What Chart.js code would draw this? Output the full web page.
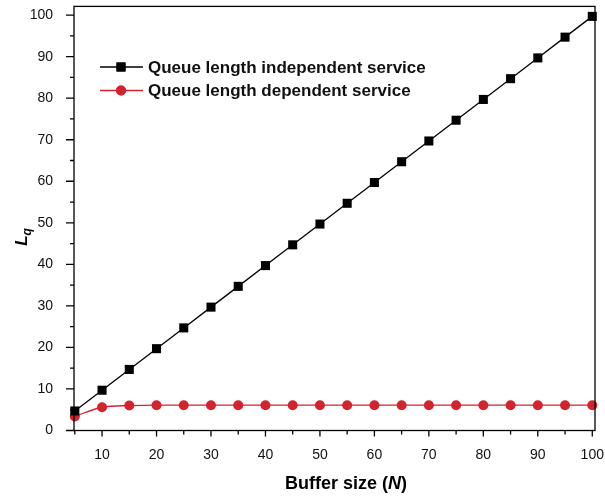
<!DOCTYPE html>
<html><head><meta charset="utf-8">
<script src="https://cdn.jsdelivr.net/npm/chart.js@4/dist/chart.umd.min.js"></script>
<style>html,body{margin:0;padding:0;background:#fff}#wrap{width:605px;height:498px}</style>
</head><body><div id="wrap"><canvas id="c" width="605" height="498"></canvas></div>
<script>
const bufferSizes = [5,10,15,20,25,30,35,40,45,50,55,60,65,70,75,80,85,90,95,100];
const independentLq = [4.7,9.7,14.7,19.7,24.7,29.7,34.7,39.7,44.7,49.7,54.7,59.7,64.7,69.7,74.7,79.7,84.7,89.7,94.7,99.7];
const dependentLq = [3.4,5.6,6.0,6.1,6.1,6.1,6.1,6.1,6.1,6.1,6.1,6.1,6.1,6.1,6.1,6.1,6.1,6.1,6.1,6.1];
const seriesNames = ['Queue length independent service','Queue length dependent service'];
const yTicks = [0,10,20,30,40,50,60,70,80,90,100];
const yMinorTicks = [5,15,25,35,45,55,65,75,85,95];
const xTicks = [10,20,30,40,50,60,70,80,90,100];
const xMinorTicks = [5,15,25,35,45,55,65,75,85,95];

const FONT = '"Liberation Sans", Arial, sans-serif';
const BLACK = '#000000';
const RED = '#d2232e';

const decor = {
  id: 'decor',
  afterDraw(chart) {
    const ctx = chart.ctx, a = chart.chartArea;
    const xs = chart.scales.x, ys = chart.scales.y;
    ctx.save();
    ctx.strokeStyle = '#000';
    ctx.lineWidth = 1.3;
    ctx.strokeRect(a.left, a.top, a.right - a.left, a.bottom - a.top);
    // ticks
    ctx.beginPath();
    xTicks.forEach(v => { const p = xs.getPixelForValue(v); ctx.moveTo(p, a.bottom); ctx.lineTo(p, a.bottom + 6); });
    xMinorTicks.forEach(v => { const p = xs.getPixelForValue(v); ctx.moveTo(p, a.bottom); ctx.lineTo(p, a.bottom + 4); });
    yTicks.forEach(v => { const p = ys.getPixelForValue(v); ctx.moveTo(a.left, p); ctx.lineTo(a.left - 8, p); });
    yMinorTicks.forEach(v => { const p = ys.getPixelForValue(v); ctx.moveTo(a.left, p); ctx.lineTo(a.left - 4, p); });
    ctx.stroke();
    // legend
    const rows = [
      {name: seriesNames[0], color: BLACK, style: 'rect', r: 6.4},
      {name: seriesNames[1], color: RED, style: 'circle', r: 5}
    ];
    ctx.font = 'bold 17px ' + FONT;
    ctx.textBaseline = 'middle';
    rows.forEach((row, i) => {
      const y = 67 + i * 23.5;
      ctx.strokeStyle = row.color; ctx.lineWidth = 1.3;
      ctx.beginPath(); ctx.moveTo(100, y); ctx.lineTo(143, y); ctx.stroke();
      ctx.fillStyle = row.color;
      Chart.helpers.drawPoint(ctx, {pointStyle: row.style, radius: row.r, rotation: 0, borderWidth: 0}, 121, y);
      ctx.fill();
      ctx.fillStyle = '#111';
      ctx.fillText(row.name, 148, y + 1);
    });
    // y title L_q
    ctx.save();
    ctx.translate(27, 237);
    ctx.rotate(-Math.PI / 2);
    ctx.fillStyle = '#000';
    ctx.textBaseline = 'alphabetic';
    ctx.textAlign = 'left';
    ctx.font = 'italic bold 17px ' + FONT;
    const wL = ctx.measureText('L').width;
    ctx.font = 'italic bold 12px ' + FONT;
    const wq = ctx.measureText('q').width;
    const x0 = -(wL + wq) / 2;
    ctx.font = 'italic bold 17px ' + FONT;
    ctx.fillText('L', x0, 0);
    ctx.font = 'italic bold 12px ' + FONT;
    ctx.fillText('q', x0 + wL, 4);
    ctx.restore();
    // x title
    ctx.fillStyle = '#000';
    ctx.textBaseline = 'alphabetic';
    ctx.textAlign = 'left';
    const parts = [['Buffer size (', 'bold 18px '], ['N', 'italic bold 18px '], [')', 'bold 18px ']];
    let total = 0;
    parts.forEach(p => { ctx.font = p[1] + FONT; total += ctx.measureText(p[0]).width; });
    let cx = 346 - total / 2;
    parts.forEach(p => { ctx.font = p[1] + FONT; ctx.fillText(p[0], cx, 489); cx += ctx.measureText(p[0]).width; });
    ctx.restore();
  }
};

new Chart(document.getElementById('c'), {
  type: 'line',
  data: {
    datasets: [
      {label: seriesNames[0], data: bufferSizes.map((x, i) => ({x, y: independentLq[i]})),
       borderColor: BLACK, backgroundColor: BLACK, borderWidth: 1.3, pointStyle: 'rect', pointRadius: 6.4,
       pointBorderWidth: 0, tension: 0, clip: false},
      {label: seriesNames[1], data: bufferSizes.map((x, i) => ({x, y: dependentLq[i]})),
       borderColor: RED, backgroundColor: RED, borderWidth: 1.3, pointStyle: 'circle', pointRadius: 5,
       pointBorderWidth: 0, cubicInterpolationMode: 'monotone', clip: false}
    ]
  },
  options: {
    responsive: false, animation: false, devicePixelRatio: 1,
    layout: {padding: {left: 0, right: 10, top: 6, bottom: 0}},
    plugins: {legend: {display: false}, tooltip: {enabled: false}},
    scales: {
      x: {type: 'linear', min: 4.85, max: 100.5,
          afterBuildTicks: s => { s.ticks = xTicks.map(v => ({value: v})); },
          afterFit: s => { s.height = 67.5; s.paddingLeft = 0; s.paddingRight = 0; },
          grid: {display: false}, border: {display: false},
          ticks: {padding: 8, color: '#111', font: {family: FONT, size: 14}, maxRotation: 0, autoSkip: false,
                  callback: v => String(v)}},
      y: {type: 'linear', min: 0, max: 102.1,
          afterBuildTicks: s => { s.ticks = yTicks.map(v => ({value: v})); },
          afterFit: s => { s.width = 74; s.paddingTop = 0; s.paddingBottom = 0; },
          grid: {display: false}, border: {display: false},
          ticks: {padding: 13, color: '#111', font: {family: FONT, size: 14}, callback: v => String(v)}}
    }
  },
  plugins: [decor]
});
</script></body></html>
